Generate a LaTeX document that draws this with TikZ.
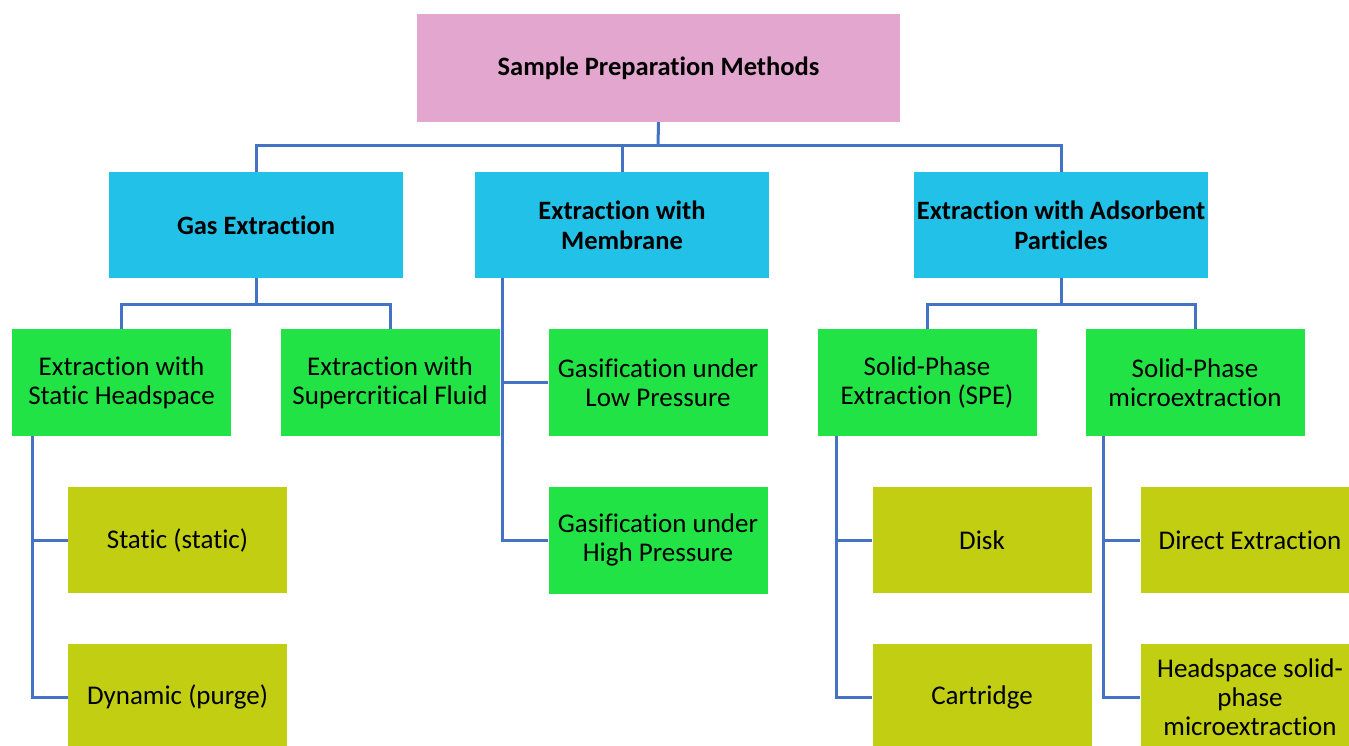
\documentclass[tikz,border=0pt]{standalone}
\usepackage{fontspec}
\setmainfont[Ligatures=CommonOff]{Carlito}
\usetikzlibrary{calc}
\definecolor{pinkc}{HTML}{E2A6CF}
\definecolor{cyanc}{HTML}{22C1E8}
\definecolor{greenc}{HTML}{22E345}
\definecolor{olivec}{HTML}{C1CE12}
\definecolor{linec}{HTML}{4472C4}
\begin{document}
\begin{tikzpicture}[x=1pt,y=-1pt,
  box/.style={inner sep=2pt, align=center, text=black},
  topbox/.style={box, fill=pinkc, minimum width=483pt, minimum height=108pt, font=\fontsize{26.5}{30}\selectfont\bfseries},
  lvone/.style={box, fill=cyanc, minimum width=294pt, minimum height=106pt, font=\fontsize{26.5}{30}\selectfont\bfseries},
  lvtwo/.style={box, fill=greenc, minimum width=219pt, minimum height=107pt, font=\fontsize{27}{29}\selectfont},
  lvthree/.style={box, fill=olivec, minimum width=219pt, minimum height=106pt, font=\fontsize{27}{29}\selectfont},
  conn/.style={draw=linec, line width=3pt}]
\useasboundingbox (0,0) rectangle (1349,746);
\fill[white] (0,0) rectangle (1349,746);
\node[topbox] (top) at (658.5,68) {Sample Preparation Methods};
\node[lvone] (gas) at (256,225) {Gas Extraction};
\node[lvone] (mem) at (622,225) {Extraction with\\Membrane};
\node[lvone] (ads) at (1061,225) {Extraction with Adsorbent\\Particles};
\node[lvtwo] (sh) at (121.5,382.5) {Extraction with\\Static Headspace};
\node[lvtwo] (sc) at (390,382.5) {Extraction with\\Supercritical Fluid};
\node[lvtwo] (gl) at (658,382.5) {Gasification under\\Low Pressure};
\node[lvtwo] (gh) at (658,540) {Gasification under\\High Pressure};
\node[lvtwo] (spe) at (927,382.5) {Solid-Phase\\Extraction (SPE)};
\node[lvtwo] (spme) at (1195,382.5) {Solid-Phase\\microextraction};
\node[lvthree] (st) at (177.5,540) {Static (static)};
\node[lvthree] (dy) at (177.5,697) {Dynamic (purge)};
\node[lvthree] (disk) at (982,540) {Disk};
\node[lvthree] (cart) at (982,697) {Cartridge};
\node[lvthree] (dir) at (1250,540) {Direct Extraction};
\node[lvthree] (hs) at (1250,697) {Headspace solid-\\phase\\microextraction};
% level 1
\coordinate (c1) at (658,146);
\draw[conn] (top.south) -- (c1);
\draw[conn] (gas.north) |- (c1) -| (ads.north);
\draw[conn] (mem.north) -- (mem.north |- c1);
% gas
\coordinate (g1) at (256,304);
\draw[conn] (gas.south) -- (g1);
\draw[conn] (sh.north) |- (g1) -| (sc.north);
% adsorbent
\coordinate (a1) at (1061,304);
\draw[conn] (ads.south) -- (a1);
\draw[conn] (spe.north) |- (a1) -| (spme.north);
% membrane
\coordinate (m0) at ($(mem.south west)+(28,0)$);
\draw[conn] (m0) |- (gh.west);
\draw[conn] (m0 |- gl.west) -- (gl.west);
% static headspace
\coordinate (s0) at ($(sh.south west)+(21,0)$);
\draw[conn] (s0) |- (dy.west);
\draw[conn] (s0 |- st.west) -- (st.west);
% SPE
\coordinate (p0) at ($(spe.south west)+(19,0)$);
\draw[conn] (p0) |- (cart.west);
\draw[conn] (p0 |- disk.west) -- (disk.west);
% SPME
\coordinate (q0) at ($(spme.south west)+(18,0)$);
\draw[conn] (q0) |- (hs.west);
\draw[conn] (q0 |- dir.west) -- (dir.west);
\end{tikzpicture}
\end{document}
